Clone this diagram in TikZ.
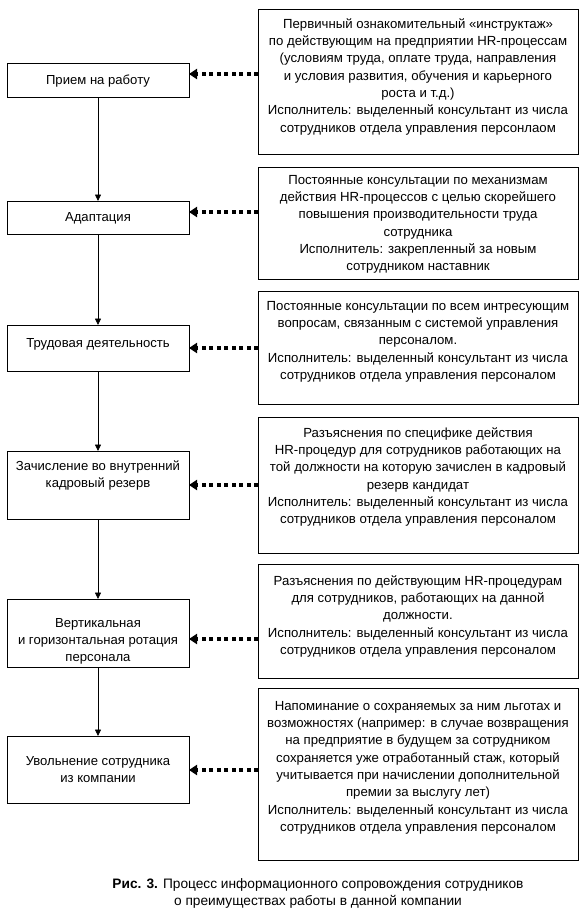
\documentclass[tikz,border=0pt]{standalone}
\usepackage{fontspec}
\setmainfont{Liberation Sans}
\usetikzlibrary{arrows.meta}
\begin{document}
\begin{tikzpicture}[x=1pt,y=-1pt,
  lbox/.style={draw=black, line width=0.8pt, rectangle, inner sep=0pt, outer sep=0pt, anchor=north west, minimum width=182pt},
  rbox/.style={draw=black, line width=0.8pt, rectangle, inner sep=0pt, outer sep=0pt, anchor=north west, minimum width=320pt},
  ltext/.style={anchor=north, align=center, inner sep=0pt, font=\fontsize{13.1}{17}\selectfont},
  rtext/.style={anchor=north, align=center, inner sep=0pt, font=\fontsize{13.2}{17.3}\selectfont},
  flow/.style={draw=black, line width=0.8pt, -{Triangle[length=6.5pt,width=6pt]}},
  info/.style={draw=black, line width=3.5pt, dash pattern=on 4pt off 3.5pt, -{Triangle[length=8pt,width=10pt]}},
]
\useasboundingbox (0,0) rectangle (585,913);
\fill[white] (0,0) rectangle (585,913);

% left process boxes
\node[lbox, minimum height=34pt] (b1) at (7,63) {};
\node[lbox, minimum height=33pt] (b2) at (7,201) {};
\node[lbox, minimum height=46pt] (b3) at (7,325) {};
\node[lbox, minimum height=68pt] (b4) at (7,451) {};
\node[lbox, minimum height=68pt] (b5) at (7,599) {};
\node[lbox, minimum height=67pt] (b6) at (7,736) {};

\node[ltext] (t1) at (98,72) {\strut Прием на работу};
\node[ltext] (t2) at (98,209) {\strut Адаптация};
\node[ltext] (t3) at (98,335) {\strut Трудовая деятельность};
\node[ltext] (t4) at (98,458) {\strut Зачисление во внутренний\\кадровый резерв};
\node[ltext] (t5) at (98,615) {\strut Вертикальная\\и горизонтальная ротация\\персонала};
\node[ltext] (t6) at (98,753) {\strut Увольнение сотрудника\\из компании};

% right info boxes
\node[rbox, minimum height=145pt] (r1) at (258,9) {};
\node[rbox, minimum height=112pt] (r2) at (258,167) {};
\node[rbox, minimum height=113pt] (r3) at (258,291) {};
\node[rbox, minimum height=136pt] (r4) at (258,417) {};
\node[rbox, minimum height=114pt] (r5) at (258,564) {};
\node[rbox, minimum height=172pt] (r6) at (258,688) {};

\node[rtext] (s1) at (418,16) {\strut Первичный ознакомительный «инструктаж»\\
по действующим на предприятии HR-процессам\\
(условиям труда, оплате труда, направления\\
и условия развития, обучения и карьерного\\
роста и т.д.)\\
Исполнитель: выделенный консультант из числа\\
сотрудников отдела управления персонлаом};
\node[rtext] (s2) at (418,172) {\strut Постоянные консультации по механизмам\\
действия HR-процессов с целью скорейшего\\
повышения производительности труда\\
сотрудника\\
Исполнитель: закрепленный за новым\\
сотрудником наставник};
\node[rtext] (s3) at (418,298) {\strut Постоянные консультации по всем интресующим\\
вопросам, связанным с системой управления\\
персоналом.\\
Исполнитель: выделенный консультант из числа\\
сотрудников отдела управления персоналом};
\node[rtext] (s4) at (418,425) {\strut Разъяснения по специфике действия\\
HR-процедур для сотрудников работающих на\\
той должности на которую зачислен в кадровый\\
резерв кандидат\\
Исполнитель: выделенный консультант из числа\\
сотрудников отдела управления персоналом};
\node[rtext] (s5) at (418,573) {\strut Разъяснения по действующим HR-процедурам\\
для сотрудников, работающих на данной\\
должности.\\
Исполнитель: выделенный консультант из числа\\
сотрудников отдела управления персоналом};
\node[rtext] (s6) at (418,698) {\strut Напоминание о сохраняемых за ним льготах и\\
возможностях (например: в случае возвращения\\
на предприятие в будущем за сотрудником\\
сохраняется уже отработанный стаж, который\\
учитывается при начислении дополнительной\\
премии за выслугу лет)\\
Исполнитель: выделенный консультант из числа\\
сотрудников отдела управления персоналом};

% flow connectors
\draw[flow] (b1.south) -- (b2.north);
\draw[flow] (b2.south) -- (b3.north);
\draw[flow] (b3.south) -- (b4.north);
\draw[flow] (b4.south) -- (b5.north);
\draw[flow] (b5.south) -- (b6.north);

% dotted info connectors
\coordinate (y1) at (0,74);
\coordinate (y2) at (0,212);
\coordinate (y3) at (0,348);
\coordinate (y4) at (0,485);
\coordinate (y5) at (0,639);
\coordinate (y6) at (0,770);
\draw[info] (r1.west |- y1) -- (b1.east |- y1);
\draw[info] (r2.west |- y2) -- (b2.east |- y2);
\draw[info] (r3.west |- y3) -- (b3.east |- y3);
\draw[info] (r4.west |- y4) -- (b4.east |- y4);
\draw[info] (r5.west |- y5) -- (b5.east |- y5);
\draw[info] (r6.west |- y6) -- (b6.east |- y6);

% caption
\node[anchor=north, align=center, inner sep=0pt, font=\fontsize{13.7}{17}\selectfont] (cap) at (318,876)
  {\strut\textbf{Рис. 3.} Процесс информационного сопровождения сотрудников\\о преимуществах работы в данной компании};
\end{tikzpicture}
\end{document}
